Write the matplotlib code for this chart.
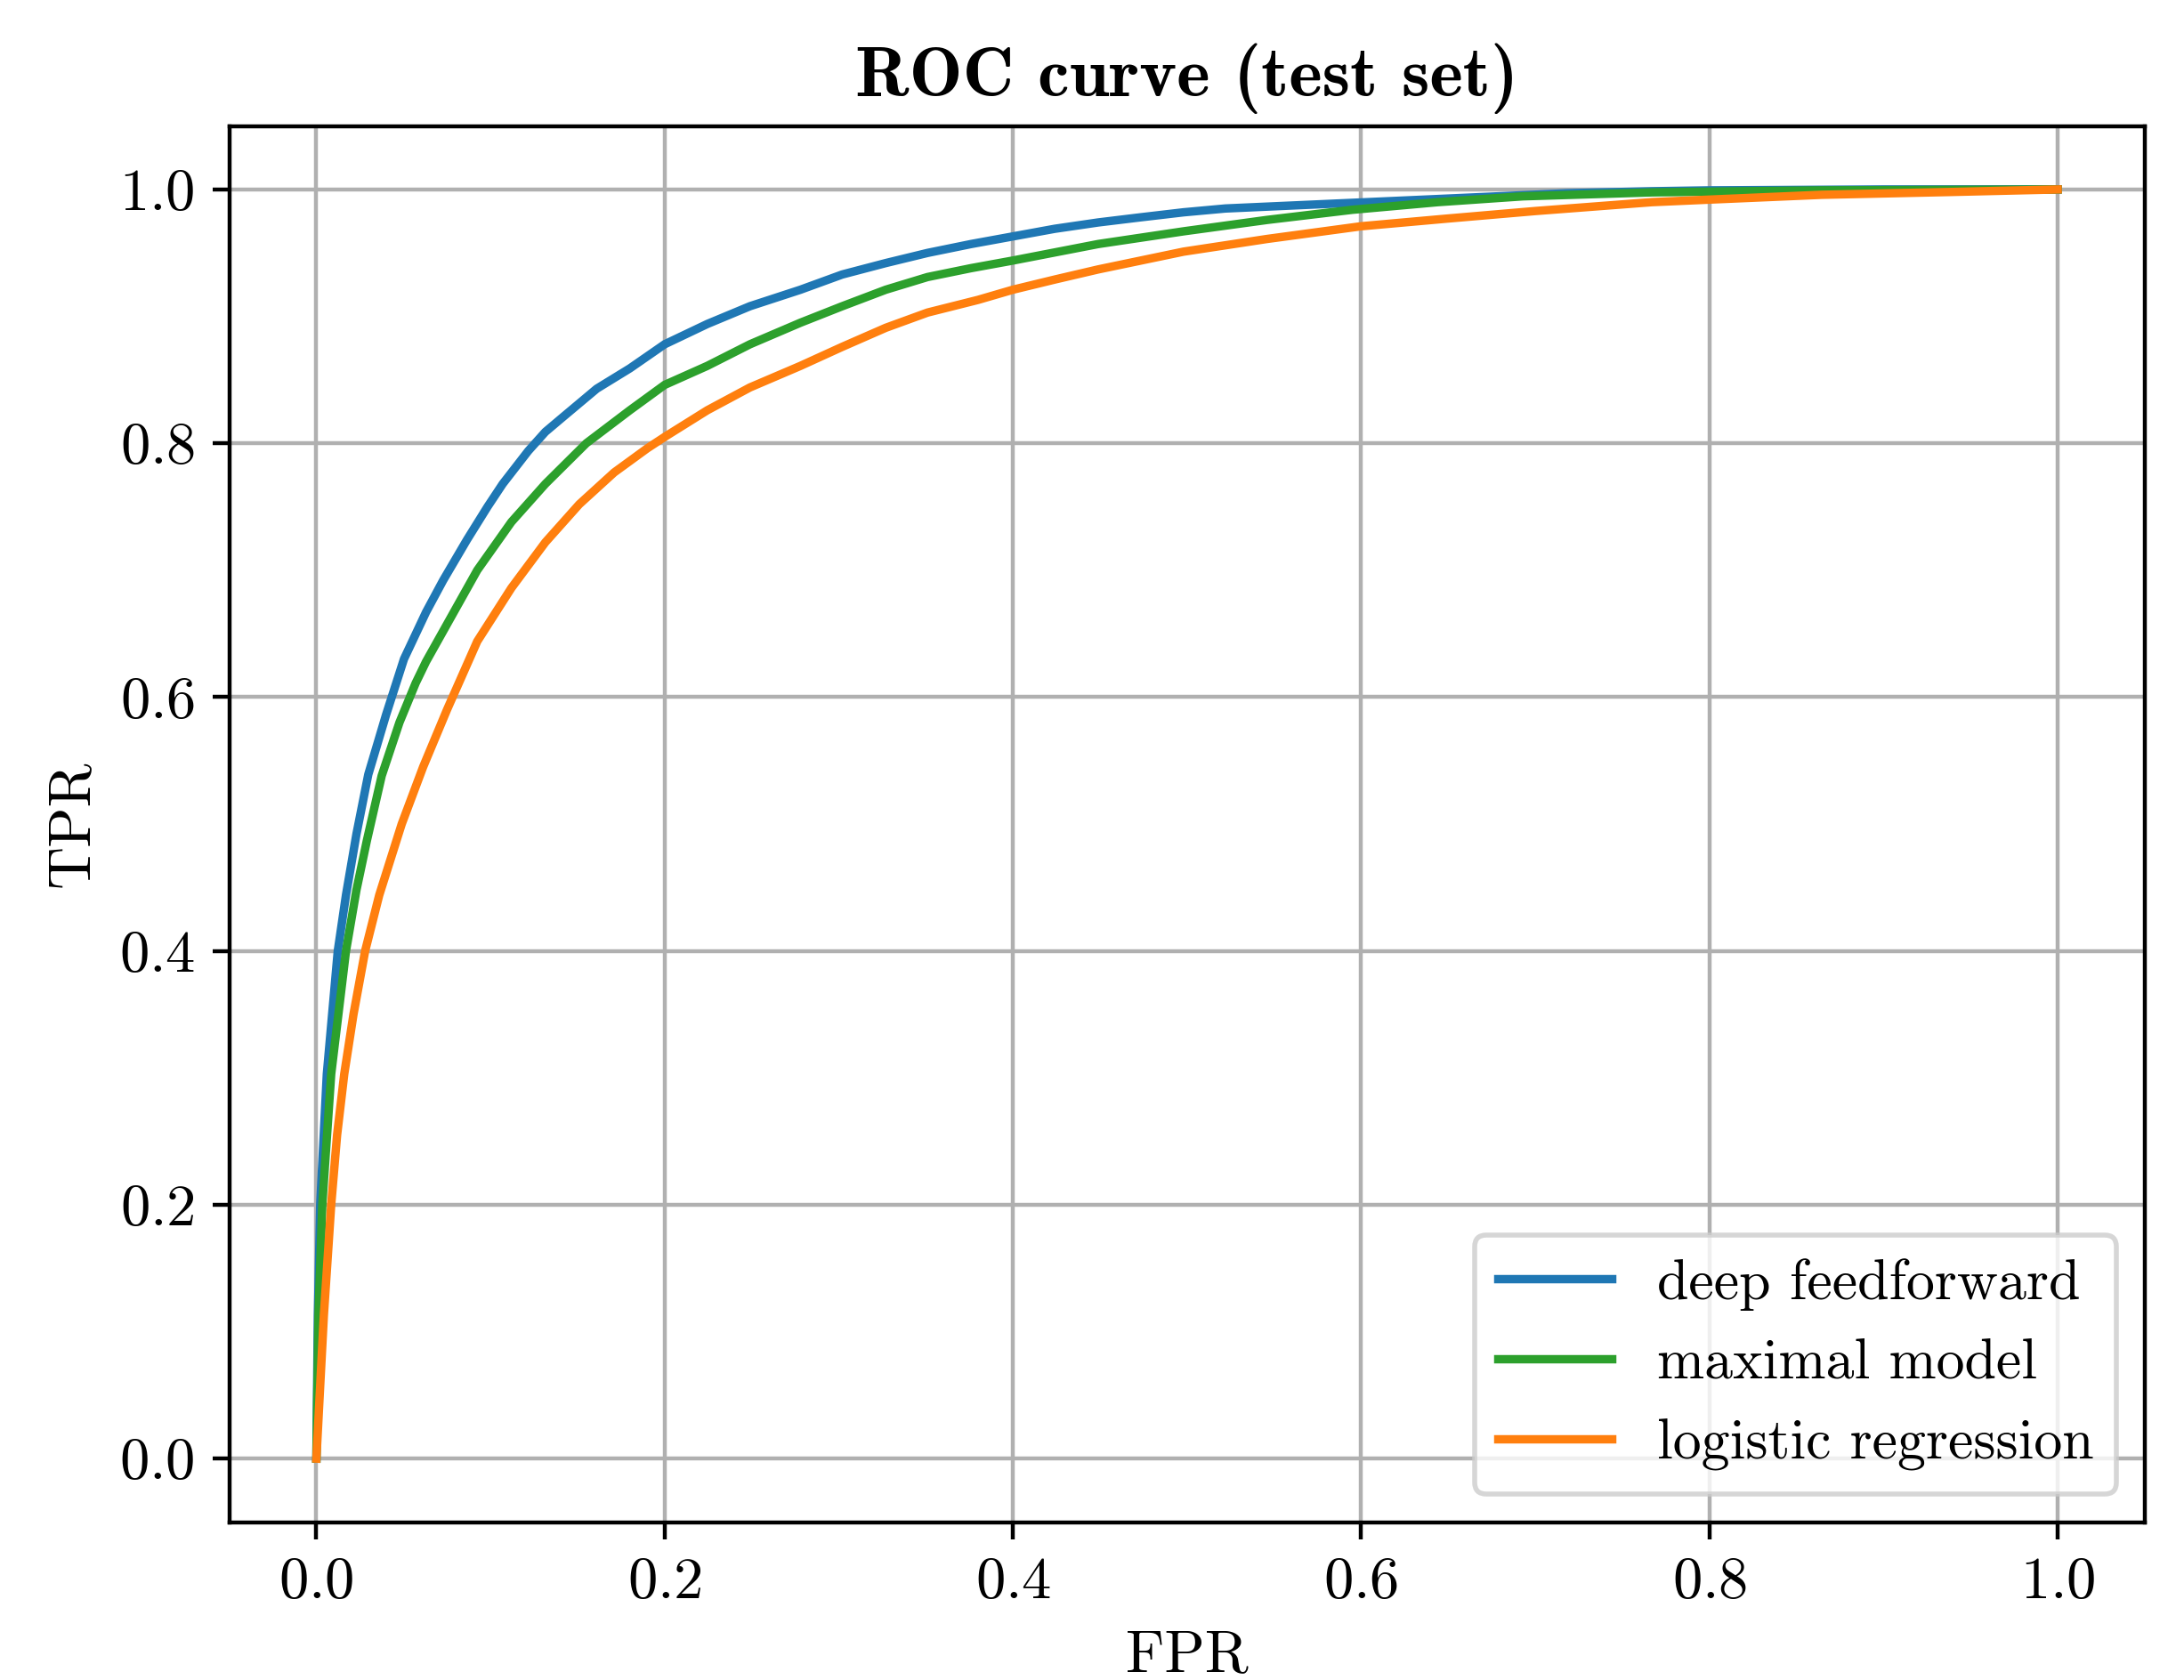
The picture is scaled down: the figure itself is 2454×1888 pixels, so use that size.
import numpy as np
import matplotlib
matplotlib.use('Agg')
import matplotlib.pyplot as plt

# Computer Modern look (fonts shipped with matplotlib)
plt.rcParams['font.family'] = 'cmr10'
plt.rcParams['mathtext.fontset'] = 'cm'
plt.rcParams['axes.formatter.use_mathtext'] = True

# ROC points
fpr_deep = [0, 0.00085, 0.0022, 0.006, 0.0123, 0.017, 0.023, 0.0298, 0.040, 0.0503,
            0.063, 0.0728, 0.0865, 0.0983, 0.107, 0.1217, 0.1315, 0.141, 0.161, 0.180,
            0.2, 0.2245, 0.249, 0.278, 0.302, 0.327, 0.351, 0.376, 0.4, 0.424,
            0.449, 0.473, 0.498, 0.522, 0.571, 0.620, 0.669, 0.718, 0.767, 0.8,
            0.9, 1.0]
tpr_deep = [0, 0.113, 0.2, 0.303, 0.4, 0.444, 0.492, 0.539, 0.586, 0.630,
            0.667, 0.692, 0.724, 0.75, 0.768, 0.794, 0.809, 0.82, 0.843, 0.859,
            0.878, 0.894, 0.908, 0.921, 0.933, 0.942, 0.950, 0.957, 0.963, 0.969,
            0.974, 0.978, 0.982, 0.985, 0.988, 0.991, 0.994, 0.997, 0.9986, 0.9993,
            1.0, 1.0]

fpr_max = [0, 0.0012, 0.0034, 0.0085, 0.017, 0.023, 0.029, 0.0375, 0.0477, 0.057,
           0.063, 0.0728, 0.0924, 0.112, 0.1315, 0.155, 0.180, 0.2, 0.2245, 0.249,
           0.278, 0.302, 0.327, 0.351, 0.376, 0.4, 0.449, 0.498, 0.546, 0.595,
           0.644, 0.693, 0.767, 0.8645, 1.0]
tpr_max = [0, 0.113, 0.2, 0.303, 0.4, 0.448, 0.487, 0.538, 0.58, 0.611,
           0.628, 0.652, 0.70, 0.738, 0.768, 0.8, 0.826, 0.846, 0.861, 0.878,
           0.895, 0.908, 0.921, 0.931, 0.938, 0.944, 0.957, 0.967, 0.976, 0.984,
           0.99, 0.9946, 0.9977, 0.9993, 1.0]

fpr_log = [0, 0.0043, 0.0085, 0.0119, 0.016, 0.0213, 0.028, 0.0361, 0.049, 0.0613,
           0.075, 0.0924, 0.112, 0.1315, 0.151, 0.171, 0.190, 0.2, 0.2245, 0.249,
           0.278, 0.302, 0.327, 0.351, 0.38, 0.4, 0.424, 0.449, 0.498, 0.546,
           0.6, 0.649, 0.700, 0.767, 0.8, 0.8645, 0.938, 1.0]
tpr_log = [0, 0.113, 0.2, 0.255, 0.303, 0.35, 0.4, 0.444, 0.50, 0.545,
           0.59, 0.644, 0.686, 0.722, 0.752, 0.777, 0.796, 0.805, 0.826, 0.844,
           0.861, 0.876, 0.891, 0.903, 0.913, 0.921, 0.929, 0.937, 0.951, 0.961,
           0.971, 0.977, 0.983, 0.990, 0.992, 0.9958, 0.998, 1.0]

labels = ['deep feedforward', 'maximal model', 'logistic regression']

fig = plt.figure(figsize=(6.135, 4.72), dpi=400)
ax = fig.add_axes([0.105, 0.094, 0.877, 0.831])

ax.plot(fpr_deep, tpr_deep, color='C0', lw=1.7, label=labels[0])
ax.plot(fpr_max, tpr_max, color='C2', lw=1.7, label=labels[1])
ax.plot(fpr_log, tpr_log, color='C1', lw=1.7, label=labels[2])

ax.set_xlim(-0.05, 1.05)
ax.set_ylim(-0.05, 1.05)
ax.set_xticks(np.arange(0, 1.01, 0.2))
ax.set_yticks(np.arange(0, 1.01, 0.2))
ax.grid(True)

ax.set_xlabel('FPR', fontsize=12)
ax.set_ylabel('TPR', fontsize=12)
ax.set_title('ROC curve (test set)', fontsize=14.4, fontfamily='cmb10')
ax.tick_params(labelsize=12)
ax.legend(loc='lower right', fontsize=11.5)

fig.savefig('out.png', dpi=400)
